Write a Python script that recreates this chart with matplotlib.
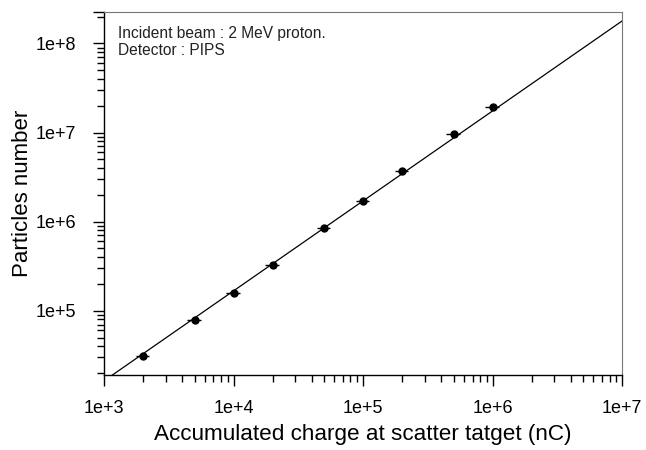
import numpy as np
import matplotlib
matplotlib.use('Agg')
import matplotlib.pyplot as plt
from matplotlib.ticker import FuncFormatter, LogLocator, FixedLocator

plt.rcParams['font.family'] = ['Liberation Sans', 'DejaVu Sans']

# measured points: accumulated charge (nC) vs particles counted
charge = [2e3, 5e3, 1e4, 2e4, 5e4, 1e5, 2e5, 5e5, 1e6]
particles = [3.07e4, 7.8e4, 1.59e5, 3.24e5, 8.4e5, 1.72e6, 3.7e6, 9.6e6, 1.95e7]
charge_err = [2.4e2, 6e2, 1.2e3, 2.4e3, 6e3, 1.2e4, 2.4e4, 6e4, 1.2e5]
particles_err = [1e3, 2e3, 4e3, 8e3, 2e4, 4e4, 1e5, 3e5, 8e5]

# linear fit drawn across the frame (end points)
fit_x = [1.15e3, 1e7]
fit_y = [1.88e4, 1.79e8]

xlim = (1e3, 1e7)
ylim = (1.9e4, 2.24e8)

fig = plt.figure(figsize=(6.46, 4.5), dpi=100)
ax = fig.add_axes([0.161, 0.1667, 0.802, 0.806])

ax.plot(fit_x, fit_y, color='black', lw=0.9)
ax.errorbar(charge, particles, xerr=charge_err, yerr=particles_err,
            fmt='o', color='black', ms=5, elinewidth=1.0, capsize=0)

ax.set_xscale('log')
ax.set_yscale('log')
ax.set_xlim(*xlim)
ax.set_ylim(*ylim)


def sci(v, pos):
    e = np.log10(v)
    if abs(e - round(e)) > 1e-6:
        return ''
    return '1e+%d' % round(e)


ax.xaxis.set_major_locator(FixedLocator([1e3, 1e4, 1e5, 1e6, 1e7]))
ax.yaxis.set_major_locator(FixedLocator([1e5, 1e6, 1e7, 1e8, ylim[1]]))
ax.xaxis.set_major_formatter(FuncFormatter(sci))
ax.yaxis.set_major_formatter(FuncFormatter(sci))
ax.xaxis.set_minor_locator(LogLocator(base=10, subs=np.arange(2, 10)))
ax.yaxis.set_minor_locator(LogLocator(base=10, subs=np.arange(2, 10)))
ax.xaxis.set_minor_formatter(FuncFormatter(lambda v, p: ''))
ax.yaxis.set_minor_formatter(FuncFormatter(lambda v, p: ''))

ax.tick_params(which='major', direction='out', length=8, width=1,
               labelsize=13, top=False, right=False)
ax.tick_params(axis='x', which='major', pad=10)
ax.tick_params(axis='y', which='major', pad=12)
ax.tick_params(which='minor', direction='out', length=5, width=1,
               top=False, right=False)

for s in ['left', 'bottom']:
    ax.spines[s].set_linewidth(1.0)
for s in ['top', 'right']:
    ax.spines[s].set_color('#777777')
    ax.spines[s].set_linewidth(0.8)

ax.set_xlabel('Accumulated charge at scatter tatget (nC)', fontsize=16.2, labelpad=5)
ax.set_ylabel('Particles number', fontsize=16, labelpad=2)

ax.text(0.027, 0.962, 'Incident beam : 2 MeV proton.\nDetector : PIPS',
        transform=ax.transAxes, fontsize=11.2, va='top', ha='left',
        color='#222222', linespacing=1.15)

fig.savefig('out.png', dpi=100)
